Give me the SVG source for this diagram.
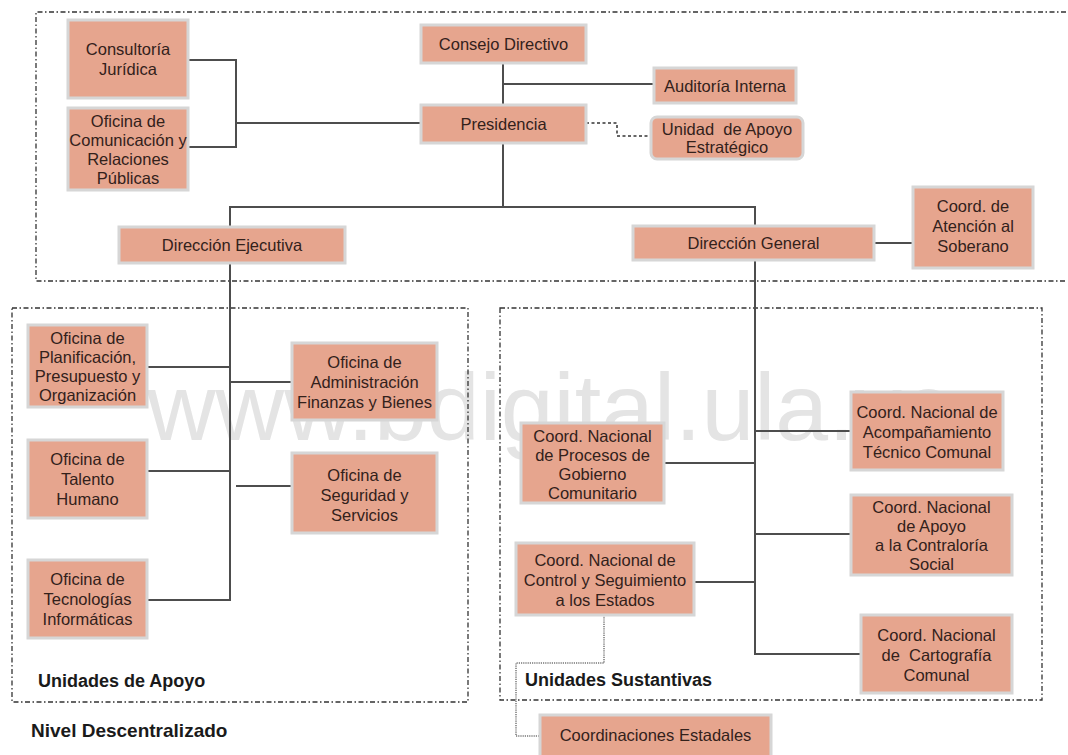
<svg xmlns="http://www.w3.org/2000/svg" width="1068" height="755" viewBox="0 0 1068 755">
  <style>
    .box { fill: #e6a58e; stroke: #d6d6d6; stroke-width: 3; }
    .t { font-family: "Liberation Sans", Arial, sans-serif; font-size: 16.5px; fill: #33211b; text-anchor: middle; }
    .lbl { font-family: "Liberation Sans", Arial, sans-serif; font-size: 18px; font-weight: bold; fill: #1a1a1a; }
    .frame { fill: none; stroke: #333; stroke-width: 1.3; stroke-dasharray: 5 2.5 1.5 2.5; }
    .line { fill: none; stroke: #4d4d4d; stroke-width: 2; }
    .dash { fill: none; stroke: #666; stroke-width: 2; stroke-dasharray: 3 2.5; }
    .dot { fill: none; stroke: #777; stroke-width: 1.5; stroke-dasharray: 1.2 1; }
    .wm { font-family: "Liberation Sans", Arial, sans-serif; font-size: 95px; fill: #e4e4e4; }
  </style>

  <rect width="1068" height="755" fill="#ffffff"/>

  <!-- background watermark -->
  <text class="wm" x="147" y="440">www.bdigital.ula.ve</text>

  <!-- level frames -->
  <g id="frames">
    <path class="frame" d="M1066,12 H36 V281 H1066"/>
    <rect class="frame" x="12" y="308" width="456" height="394"/>
    <rect class="frame" x="500" y="308" width="542" height="392"/>
  </g>

  <!-- connectors -->
  <g id="connectors">
    <path class="line" d="M188,60 H236 V147 H188"/>
    <path class="line" d="M236,123 H421"/>
    <path class="line" d="M503,63 V105"/>
    <path class="line" d="M503,84 H654"/>
    <path class="line" d="M503,143 V207"/>
    <path class="line" d="M230,227 V207 H755 V226"/>
    <path class="dash" d="M586,123 H617 V136 H651"/>
    <path class="line" d="M874,243 H913"/>
    <path class="line" d="M230,263 V600 H147"/>
    <path class="line" d="M147,367 H230"/>
    <path class="line" d="M230,382 H292"/>
    <path class="line" d="M147,471 H230"/>
    <path class="line" d="M236,486 H292"/>
    <path class="line" d="M755,260 V654 H861"/>
    <path class="line" d="M755,431 H851"/>
    <path class="line" d="M664,463 H755"/>
    <path class="line" d="M755,534 H851"/>
    <path class="line" d="M694,582 H755"/>
    <path class="dot" d="M604,615 V663 H516 V736 H540"/>
  </g>

  <!-- top level -->
  <g id="consultoria">
    <rect class="box" x="68" y="20" width="120" height="78"/>
    <text class="t" x="128" y="55">Consultoría</text>
    <text class="t" x="128" y="75">Jurídica</text>
  </g>
  <g id="comunicacion">
    <rect class="box" x="68" y="108" width="120" height="82"/>
    <text class="t" x="128" y="127">Oficina de</text>
    <text class="t" x="128" y="146">Comunicación y</text>
    <text class="t" x="128" y="165">Relaciones</text>
    <text class="t" x="128" y="184">Públicas</text>
  </g>
  <g id="consejo">
    <rect class="box" x="421" y="25" width="165" height="38"/>
    <text class="t" x="503.5" y="50">Consejo Directivo</text>
  </g>
  <g id="auditoria">
    <rect class="box" x="654" y="68" width="142" height="35"/>
    <text class="t" x="725" y="91.5">Auditoría Interna</text>
  </g>
  <g id="presidencia">
    <rect class="box" x="421" y="105" width="165" height="38"/>
    <text class="t" x="503.5" y="130">Presidencia</text>
  </g>
  <g id="unidad-apoyo">
    <rect class="box" x="651" y="117" width="152" height="42" rx="6"/>
    <text class="t" x="727" y="135" xml:space="preserve">Unidad  de Apoyo</text>
    <text class="t" x="727" y="153">Estratégico</text>
  </g>
  <g id="direccion-ejecutiva">
    <rect class="box" x="119" y="227" width="226" height="36"/>
    <text class="t" x="232" y="251">Dirección Ejecutiva</text>
  </g>
  <g id="direccion-general">
    <rect class="box" x="633" y="226" width="241" height="34"/>
    <text class="t" x="753.5" y="249">Dirección General</text>
  </g>
  <g id="atencion-soberano">
    <rect class="box" x="913" y="187" width="120" height="81"/>
    <text class="t" x="973" y="212">Coord. de</text>
    <text class="t" x="973" y="232">Atención al</text>
    <text class="t" x="973" y="252">Soberano</text>
  </g>

  <!-- support units -->
  <g id="planificacion">
    <rect class="box" x="28" y="325" width="119" height="82"/>
    <text class="t" x="87.5" y="344">Oficina de</text>
    <text class="t" x="87.5" y="363">Planificación,</text>
    <text class="t" x="87.5" y="382">Presupuesto y</text>
    <text class="t" x="87.5" y="401">Organización</text>
  </g>
  <g id="administracion">
    <rect class="box" x="292" y="343" width="145" height="77"/>
    <text class="t" x="364.5" y="368">Oficina de</text>
    <text class="t" x="364.5" y="388">Administración</text>
    <text class="t" x="364.5" y="408">Finanzas y Bienes</text>
  </g>
  <g id="talento">
    <rect class="box" x="28" y="440" width="119" height="78"/>
    <text class="t" x="87.5" y="465">Oficina de</text>
    <text class="t" x="87.5" y="485">Talento</text>
    <text class="t" x="87.5" y="505">Humano</text>
  </g>
  <g id="seguridad">
    <rect class="box" x="292" y="453" width="145" height="80"/>
    <text class="t" x="364.5" y="481">Oficina de</text>
    <text class="t" x="364.5" y="501">Seguridad y</text>
    <text class="t" x="364.5" y="521">Servicios</text>
  </g>
  <g id="tecnologias">
    <rect class="box" x="28" y="560" width="119" height="78"/>
    <text class="t" x="87.5" y="585">Oficina de</text>
    <text class="t" x="87.5" y="605">Tecnologías</text>
    <text class="t" x="87.5" y="625">Informáticas</text>
  </g>

  <!-- substantive units -->
  <g id="acompanamiento">
    <rect class="box" x="851" y="392" width="152" height="78"/>
    <text class="t" x="927" y="418">Coord. Nacional de</text>
    <text class="t" x="927" y="438">Acompañamiento</text>
    <text class="t" x="927" y="458">Técnico Comunal</text>
  </g>
  <g id="procesos">
    <rect class="box" x="521" y="423" width="143" height="80"/>
    <text class="t" x="592.5" y="442">Coord. Nacional</text>
    <text class="t" x="592.5" y="461">de Procesos de</text>
    <text class="t" x="592.5" y="480">Gobierno</text>
    <text class="t" x="592.5" y="499">Comunitario</text>
  </g>
  <g id="contraloria">
    <rect class="box" x="851" y="495" width="161" height="80"/>
    <text class="t" x="931.5" y="513">Coord. Nacional</text>
    <text class="t" x="931.5" y="532">de Apoyo</text>
    <text class="t" x="931.5" y="551">a la Contraloría</text>
    <text class="t" x="931.5" y="570">Social</text>
  </g>
  <g id="control">
    <rect class="box" x="516" y="543" width="178" height="72"/>
    <text class="t" x="605" y="566">Coord. Nacional de</text>
    <text class="t" x="605" y="586">Control y Seguimiento</text>
    <text class="t" x="605" y="606">a los Estados</text>
  </g>
  <g id="cartografia">
    <rect class="box" x="861" y="615" width="151" height="78"/>
    <text class="t" x="936.5" y="641">Coord. Nacional</text>
    <text class="t" x="936.5" y="661" xml:space="preserve">de  Cartografía</text>
    <text class="t" x="936.5" y="681">Comunal</text>
  </g>
  <g id="coordinaciones-estadales">
    <rect class="box" x="540" y="715" width="231" height="50"/>
    <text class="t" x="655.5" y="741">Coordinaciones Estadales</text>
  </g>

  <!-- section labels -->
  <g id="labels">
    <text class="lbl" x="38" y="687">Unidades de Apoyo</text>
    <text class="lbl" x="525" y="686">Unidades Sustantivas</text>
    <text class="lbl" x="31" y="737" style="font-size:19px">Nivel Descentralizado</text>
  </g>
</svg>
